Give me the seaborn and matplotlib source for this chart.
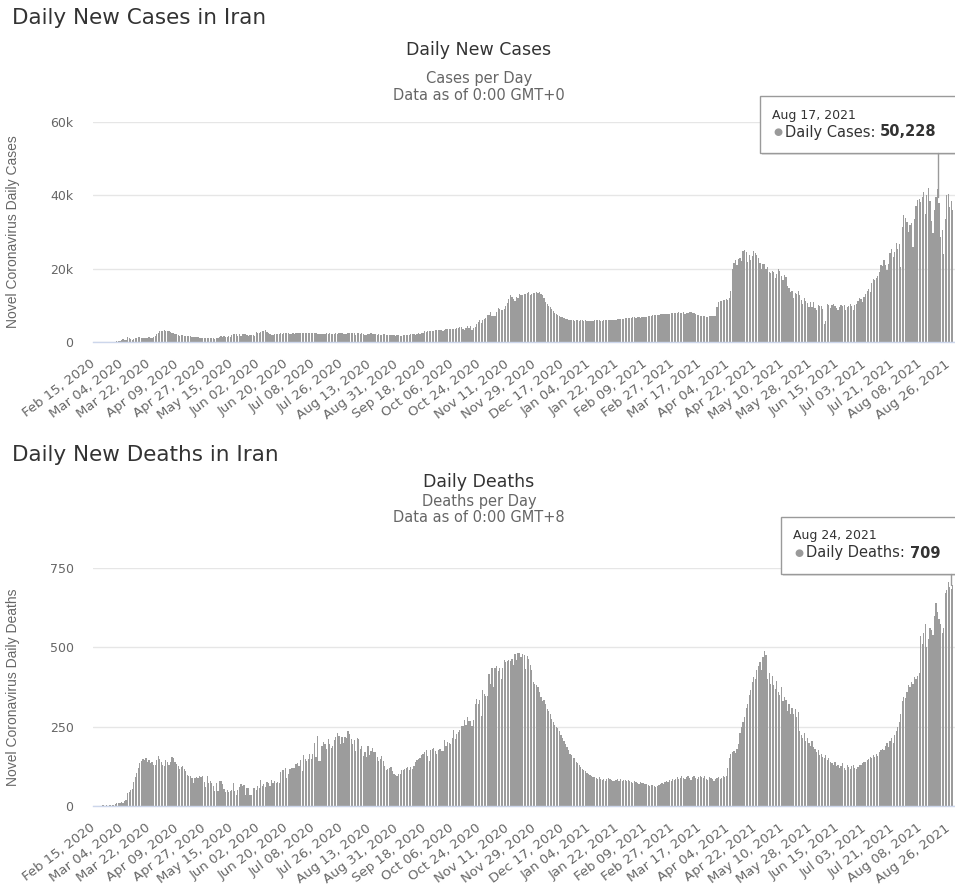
import numpy as np
import pandas as pd
import matplotlib
matplotlib.use("Agg")
import matplotlib.pyplot as plt
import matplotlib.transforms as mtransforms
from matplotlib.patches import Rectangle
from matplotlib.text import Annotation
import seaborn as sns

# first day of both series
start_date = "2020-02-15"

# daily new cases, one row per 18 days (one row per x tick)
cases = [
    0, 0, 0, 0, 2, 3, 13, 10, 15, 18, 34, 44, 106, 143, 205, 385, 523, 835,
    586, 591, 1234, 1076, 743, 595, 881, 958, 1075, 1289, 1365, 1209, 1053, 1178, 1192, 1046, 1237, 966,
    1028, 1411, 1762, 2206, 2389, 2926, 3076, 2901, 3186, 3110, 2987, 2875, 2715, 2560, 2483, 2274, 2089, 1997,
    1634, 1972, 1837, 1657, 1617, 1574, 1512, 1606, 1499, 1374, 1343, 1294, 1297, 1194, 1030, 1168, 1134, 1153,
    991, 1112, 1073, 1006, 983, 802, 976, 1223, 1323, 1680, 1485, 1529, 1383, 1383, 1683, 1481, 1958, 2102,
    2050, 2120, 1620, 2120, 1670, 2170, 2210, 2140, 1920, 1730, 1870, 1950, 2010, 1690, 2600, 2320, 2570, 2750,
    2900, 3050, 3300, 2750, 2450, 2250, 2000, 1950, 2080, 2150, 2300, 2250, 2350, 2300, 2450, 2400, 2420, 2440,
    2200, 2250, 2420, 2300, 2380, 2420, 2350, 2320, 2380, 2340, 2320, 2400, 2480, 2400, 2450, 2400, 2470, 2500,
    2150, 2250, 2260, 2250, 2080, 2210, 2360, 2250, 2350, 2240, 2050, 2070, 2460, 2270, 2470, 2450, 2340, 2180,
    2050, 2290, 2390, 2490, 2470, 2450, 2510, 2010, 2430, 2520, 2300, 2470, 2300, 1920, 2020, 2210, 2300, 2470,
    2250, 2220, 2300, 2020, 2100, 1990, 2010, 2080, 2240, 1860, 1990, 2030, 1910, 1960, 1780, 1600, 1820, 1880,
    1640, 1610, 1820, 1860, 1870, 1790, 1950, 2090, 2060, 2200, 2020, 2180, 2360, 2170, 2420, 2550, 2900, 2850,
    2900, 3000, 3120, 3020, 2920, 3290, 3290, 3330, 3150, 3350, 3000, 3320, 3430, 3570, 3420, 3470, 3640, 3470,
    3650, 3760, 3870, 3970, 4100, 3580, 3390, 3930, 4500, 3840, 4410, 3300, 3700, 3980, 5000, 5500, 5900, 5300,
    6000, 6200, 6600, 7500, 7400, 8100, 7200, 7000, 7100, 8300, 9300, 9100, 8600, 8800, 9000, 9800, 10600, 11600,
    12700, 12400, 11800, 11300, 12400, 11900, 13200, 12700, 12800, 13100, 13200, 13300, 13700, 12800, 13200, 13400, 13400, 13700,
    13300, 13600, 13200, 12900, 12100, 11000, 10300, 9800, 9600, 8900, 8500, 8000, 7600, 7400, 7200, 6900, 6700, 6500,
    6300, 6200, 6100, 6000, 5900, 5950, 5800, 5950, 6000, 5800, 5950, 5900, 5850, 5900, 5800, 5650, 5700, 5750,
    5750, 5900, 5950, 5950, 5900, 5850, 5800, 5900, 5950, 6000, 5950, 6000, 6100, 6050, 6000, 5950, 6200, 6300,
    6350, 6300, 6400, 6450, 6550, 6550, 6500, 6600, 6700, 6700, 6650, 6750, 6900, 6650, 6750, 6700, 6800, 6900,
    7000, 7100, 7200, 7300, 7400, 7300, 7250, 7450, 7550, 7600, 7650, 7650, 7600, 7700, 7750, 7850, 7900, 7950,
    8000, 7950, 8050, 7950, 7900, 8050, 7750, 7850, 7950, 8100, 8150, 7800, 7900, 7750, 7500, 7300, 7200, 7150,
    7100, 7200, 6950, 6900, 7000, 7050, 7150, 7000, 7200, 9500, 11000, 11300, 11200, 11400, 11500, 11600, 11500, 12000,
    13900, 20000, 21500, 22300, 21000, 22600, 23000, 22000, 24700, 25000, 24600, 21800, 23800, 22400, 23500, 24800, 24300, 23600,
    22800, 21500, 20000, 21400, 21300, 19800, 20500, 19000, 18700, 19300, 19000, 17500, 18500, 19800, 19300, 18000, 16800, 18200,
    17700, 15300, 14600, 13600, 13800, 12000, 13400, 13000, 14000, 12800, 11500, 10500, 11900, 11300, 10700, 9500, 10800, 9600,
    11000, 9300, 8700, 10100, 9700, 9800, 8900, 4800, 5600, 10300, 10100, 9400, 10100, 10400, 9800, 9200, 8700, 9600,
    10200, 9900, 10000, 8800, 9600, 9800, 10400, 9700, 8600, 10000, 10400, 11300, 12000, 11800, 10800, 12400, 13100, 14000,
    14400, 13600, 16200, 17200, 16800, 17500, 18000, 19100, 21000, 20600, 22400, 21000, 19600, 21400, 24200, 25400, 23300, 24500,
    27000, 25500, 26800, 20500, 31500, 34600, 33800, 32600, 30100, 31800, 32400, 26000, 33500, 37200, 38600, 39000, 38200, 39500,
    40800, 35000, 40200, 41900, 38500, 33000, 29600, 36000, 39500, 41600, 38000, 28700, 30500, 24100, 33500, 40100, 40300, 36800,
    38500, 36000,
]

# daily new deaths, same layout
deaths = [
    0, 0, 0, 0, 2, 0, 2, 1, 3, 4, 4, 3, 7, 8, 9, 11, 12, 11,
    15, 18, 40, 45, 50, 55, 75, 90, 105, 120, 135, 142, 148, 145, 150, 140, 145, 135,
    140, 130, 128, 145, 157, 148, 140, 128, 125, 145, 140, 130, 138, 155, 150, 138, 133, 125,
    117, 122, 125, 117, 111, 98, 94, 94, 89, 73, 87, 91, 88, 94, 90, 93, 76, 60,
    96, 71, 80, 71, 63, 47, 74, 47, 78, 78, 68, 55, 45, 51, 45, 48, 50, 71,
    48, 35, 51, 59, 69, 62, 66, 34, 57, 58, 34, 34, 57, 56, 50, 63, 57, 81,
    64, 70, 59, 75, 72, 63, 81, 74, 78, 71, 75, 71, 107, 113, 115, 120, 87, 100,
    116, 119, 121, 119, 133, 134, 127, 144, 109, 162, 147, 141, 148, 163, 148, 163, 200, 153,
    221, 142, 142, 188, 203, 194, 179, 212, 195, 183, 188, 209, 217, 229, 221, 195, 216, 199,
    216, 215, 235, 226, 212, 196, 208, 174, 215, 212, 180, 189, 156, 171, 154, 189, 161, 174,
    184, 169, 171, 153, 142, 148, 159, 141, 125, 112, 117, 119, 122, 110, 100, 98, 95, 102,
    100, 112, 115, 118, 121, 123, 115, 122, 118, 125, 140, 145, 148, 150, 160, 165, 170, 175,
    157, 143, 178, 179, 184, 172, 163, 175, 181, 172, 174, 207, 189, 201, 200, 195, 215, 239,
    211, 227, 233, 239, 251, 251, 272, 254, 279, 267, 269, 253, 272, 322, 337, 322, 335, 284,
    365, 353, 346, 346, 415, 384, 434, 376, 434, 440, 426, 434, 399, 434, 459, 454, 457, 461,
    456, 462, 445, 480, 461, 482, 483, 469, 479, 475, 431, 474, 463, 445, 430, 390, 385, 380,
    375, 360, 345, 330, 335, 320, 305, 300, 290, 275, 265, 255, 250, 245, 235, 225, 215, 205,
    195, 185, 175, 165, 160, 152, 150, 140, 135, 128, 123, 118, 115, 110, 105, 100, 98, 95,
    92, 90, 88, 85, 90, 85, 82, 86, 80, 84, 88, 85, 83, 80, 78, 82, 85, 80,
    84, 79, 81, 83, 78, 82, 80, 76, 74, 78, 75, 72, 70, 76, 74, 72, 68, 70,
    66, 63, 65, 67, 62, 60, 64, 67, 70, 72, 68, 75, 80, 76, 82, 78, 85, 83,
    86, 90, 84, 88, 93, 87, 85, 90, 95, 88, 82, 92, 96, 89, 86, 91, 94, 90,
    88, 93, 85, 82, 90, 87, 84, 78, 85, 88, 92, 86, 89, 95, 90, 94, 120, 150,
    165, 170, 172, 168, 180, 195, 230, 250, 265, 280, 310, 320, 350, 365, 390, 405, 400, 430,
    440, 455, 430, 470, 490, 475, 400, 420, 385, 410, 380, 370, 395, 360, 350, 375, 330, 345,
    335, 300, 320, 290, 310, 290, 305, 280, 295, 235, 225, 215, 230, 205, 215, 200, 190, 205,
    185, 180, 170, 175, 160, 165, 155, 150, 160, 145, 150, 140, 135, 130, 140, 125, 130, 120,
    125, 135, 120, 115, 130, 122, 118, 125, 128, 120, 116, 124, 130, 128, 135, 140, 138, 145,
    148, 155, 150, 160, 155, 165, 158, 170, 175, 180, 178, 190, 200, 185, 205, 215, 200, 225,
    235, 250, 265, 290, 330, 345, 340, 360, 380, 375, 390, 385, 405, 400, 410, 420, 535, 510,
    545, 575, 500, 525, 560, 555, 540, 600, 640, 610, 590, 575, 545, 560, 670, 680, 705, 690,
    685, 695,
]

tick_labels = [
    "Feb 15, 2020", "Mar 04, 2020", "Mar 22, 2020", "Apr 09, 2020", "Apr 27, 2020",
    "May 15, 2020", "Jun 02, 2020", "Jun 20, 2020", "Jul 08, 2020", "Jul 26, 2020",
    "Aug 13, 2020", "Aug 31, 2020", "Sep 18, 2020", "Oct 06, 2020", "Oct 24, 2020",
    "Nov 11, 2020", "Nov 29, 2020", "Dec 17, 2020", "Jan 04, 2021", "Jan 22, 2021",
    "Feb 09, 2021", "Feb 27, 2021", "Mar 17, 2021", "Apr 04, 2021", "Apr 22, 2021",
    "May 10, 2021", "May 28, 2021", "Jun 15, 2021", "Jul 03, 2021", "Jul 21, 2021",
    "Aug 08, 2021", "Aug 26, 2021",
]
tick_step = 18

cases_ticks = [0, 20000, 40000, 60000]
cases_tick_labels = ["0", "20k", "40k", "60k"]
deaths_ticks = [0, 250, 500, 750]
deaths_tick_labels = ["0", "250", "500", "750"]

sns.set_style("white")
plt.rcParams["font.family"] = ["DejaVu Sans"]

W, H = 955, 893
fig = plt.figure(figsize=(W / 100, H / 100), dpi=100)


def fx(px):
    return px / W


def fy(py):
    return 1 - py / H


def draw_panel(rect, values, yticks, ylabels, ylabel):
    ax = fig.add_axes(rect)
    df = pd.DataFrame({"day": np.arange(len(values)), "value": values})
    sns.barplot(data=df, x="day", y="value", native_scale=True, color="#9c9c9c",
                saturation=1, width=0.8, errorbar=None, linewidth=0, ax=ax)
    ax.set_xlim(-2.6, 560.4)
    ax.set_ylim(0, yticks[-1])
    ax.set_yticks(yticks)
    ax.set_yticklabels(ylabels)
    ax.set_xticks(np.arange(0, len(values), tick_step))
    ax.set_xticklabels(tick_labels, rotation=37, ha="right", va="top",
                       rotation_mode="anchor")
    ax.tick_params(axis="x", length=0, pad=11, labelsize=9.5, labelcolor="#666666")
    ax.tick_params(axis="y", length=0, pad=14, labelsize=9, labelcolor="#666666")
    # pull the rotated labels a bit left so the last one stays inside
    shift = mtransforms.ScaledTranslation(-7 / 100, 0, fig.dpi_scale_trans)
    for lbl in ax.get_xticklabels():
        lbl.set_transform(lbl.get_transform() + shift)
    ax.grid(axis="y", color="#e6e6e6", linewidth=1)
    ax.set_axisbelow(True)
    for side in ["top", "right", "left"]:
        ax.spines[side].set_visible(False)
    ax.spines["bottom"].set_color("#ccd6eb")
    ax.spines["bottom"].set_linewidth(1)
    ax.set_xlabel("")
    ax.set_ylabel(ylabel, fontsize=10, color="#666666", family="Liberation Sans")
    ax.yaxis.set_label_coords(-0.085, 0.5)
    return ax


# ---- cases panel
ax1 = draw_panel([fx(93), fy(342), (W - 93) / W, 220 / H], cases,
                 cases_ticks, cases_tick_labels, "Novel Coronavirus Daily Cases")
fig.text(fx(12), fy(18), "Daily New Cases in Iran", fontsize=15.5, color="#333333",
         va="center", ha="left")
fig.text(fx(479), fy(50), "Daily New Cases", fontsize=12.5, color="#333333",
         va="center", ha="center")
fig.text(fx(479), fy(78), "Cases per Day", fontsize=10.5, color="#666666",
         va="center", ha="center")
fig.text(fx(479), fy(96), "Data as of 0:00 GMT+0", fontsize=10.5, color="#666666",
         va="center", ha="center")

# ---- deaths panel
ax2 = draw_panel([fx(93), fy(806), (W - 93) / W, 238 / H], deaths,
                 deaths_ticks, deaths_tick_labels, "Novel Coronavirus Daily Deaths")
fig.text(fx(12), fy(455), "Daily New Deaths in Iran", fontsize=15.5, color="#333333",
         va="center", ha="left")
fig.text(fx(479), fy(482), "Daily Deaths", fontsize=12.5, color="#333333",
         va="center", ha="center")
fig.text(fx(479), fy(502), "Deaths per Day", fontsize=10.5, color="#666666",
         va="center", ha="center")
fig.text(fx(479), fy(518), "Data as of 0:00 GMT+8", fontsize=10.5, color="#666666",
         va="center", ha="center")

# ---- tooltips, boxes run off the right edge like the screenshot
tips = [
    # left, top, bottom, date, label, value, pointer x, pointer length (px)
    (760, 96, 153, "Aug 17, 2021", "Daily Cases", "50,228", 938, 44),
    (781, 517, 574, "Aug 24, 2021", "Daily Deaths", "709", 951, 11),
]
for (x0, y0, y1, date, name, value, px, plen) in tips:
    fig.patches.append(Rectangle((fx(x0 + 2), fy(y1 + 2)), (W - x0) / W, (y1 - y0) / H,
                                 transform=fig.transFigure, facecolor="#d0d0d0",
                                 edgecolor="none", alpha=0.6, zorder=9))
    fig.patches.append(Rectangle((fx(x0), fy(y1)), (W - x0 + 10) / W, (y1 - y0) / H,
                                 transform=fig.transFigure, facecolor="white",
                                 edgecolor="#9a9a9a", linewidth=1, zorder=10))
    fig.lines.append(plt.Line2D([fx(px), fx(px)], [fy(y1), fy(y1 + plen)],
                                transform=fig.transFigure, color="#9a9a9a",
                                linewidth=1, zorder=11))
    fig.text(fx(x0 + 12), fy(y0 + 19), date, fontsize=9, color="#333333",
             va="center", ha="left", zorder=12)
    fig.text(fx(x0 + 13), fy(y0 + 36), "\u25cf", fontsize=7.5, color="#9a9a9a",
             va="center", ha="left", zorder=12)
    t1 = fig.text(fx(x0 + 25), fy(y0 + 36), name + ": ", fontsize=10.5,
                  color="#333333", va="center", ha="left", zorder=12)
    ann = Annotation(value, xy=(1, 0.5), xycoords=t1, va="center", ha="left",
                     fontsize=10.5, fontweight="bold", color="#333333", zorder=12)
    fig.add_artist(ann)

fig.savefig("out.png", dpi=100)
